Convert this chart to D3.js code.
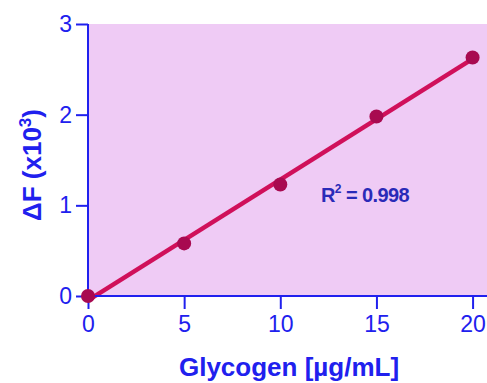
<!DOCTYPE html>
<html>
<head>
<meta charset="utf-8">
<script src="https://d3js.org/d3.v7.min.js"></script>
<style>
  body { margin: 0; background: #fff; }
  text { font-family: "Liberation Sans", Arial, sans-serif; }
</style>
</head>
<body>
<div id="chart"></div>
<script>
// data
var glycogen = [0, 5, 10, 15, 20];
var deltaF = [0, 0.58, 1.23, 1.98, 2.63];
var xTicks = [0, 5, 10, 15, 20];
var yTicks = [0, 1, 2, 3];
var fitLabel = "0.998";

var W = 487, H = 383;
var blue = "#2020ee";

var svg = d3.select("#chart").append("svg")
  .attr("width", W).attr("height", H);

var x = d3.scaleLinear().domain([0, 20.75]).range([88, 487]);
var y = d3.scaleLinear().domain([0, 3]).range([296, 24]);

// plot background
svg.append("rect")
  .attr("x", x(0)).attr("y", y(3))
  .attr("width", x(20.75) - x(0)).attr("height", y(0) - y(3))
  .attr("fill", "#efcbf5");

/* least squares fit line */
var n = glycogen.length;
var mx = d3.mean(glycogen), my = d3.mean(deltaF);
var sxy = 0, sxx = 0;
for (var i = 0; i < n; i++) {
  sxy += (glycogen[i] - mx) * (deltaF[i] - my);
  sxx += (glycogen[i] - mx) * (glycogen[i] - mx);
}
var slope = sxy / sxx;
var icpt = my - slope * mx;

var line = d3.line()
  .x(function(d) { return x(d); })
  .y(function(d) { return y(slope * d + icpt); });

svg.append("path")
  .attr("d", line([0, 20]))
  .attr("stroke", "#d0105a")
  .attr("stroke-width", 4.5)
  .attr("fill", "none");

var xAxis = d3.axisBottom(x).tickValues(xTicks).tickFormat(d3.format("d"))
  .tickSize(13).tickPadding(7);
var yAxis = d3.axisLeft(y).tickValues(yTicks).tickFormat(d3.format("d"))
  .tickSize(12).tickPadding(4);

var gx = svg.append("g")
  .attr("transform", "translate(0," + y(0) + ")")
  .call(xAxis);
var gy = svg.append("g")
  .attr("transform", "translate(" + x(0) + ",0)")
  .call(yAxis);

[gx, gy].forEach(function(g) {
  g.select(".domain").attr("stroke", blue).attr("stroke-width", 2);
  g.selectAll(".tick line").attr("stroke", blue).attr("stroke-width", 2);
  g.selectAll(".tick text").attr("fill", blue)
    .style("font-size", "23px");
});
gy.select(".domain").attr("d", "M0," + y(3) + "V" + y(0));
gx.select(".domain").attr("d", "M" + x(0) + ",0H" + x(20.75));

// points drawn on top of axes
svg.selectAll("circle.pt")
  .data(glycogen)
  .enter().append("circle")
  .attr("class", "pt")
  .attr("cx", function(d) { return x(d); })
  .attr("cy", function(d, i) { return y(deltaF[i]); })
  .attr("r", 7)
  .attr("fill", "#a80a50");

// R^2 label
var r2 = svg.append("text")
  .attr("x", 321).attr("y", 202)
  .attr("fill", "#2a2ab8")
  .style("font-size", "20px")
  .style("font-weight", "bold")
  .style("letter-spacing", "-0.6px");
r2.append("tspan").text("R");
r2.append("tspan").attr("dy", -9).style("font-size", "12px").text("2");
r2.append("tspan").attr("dy", 9).text(" = " + fitLabel);

// axis titles
svg.append("text")
  .attr("x", 289).attr("y", 376)
  .attr("text-anchor", "middle")
  .attr("fill", blue)
  .style("font-size", "26px")
  .style("font-weight", "bold")
  .text("Glycogen [\u00b5g/mL]");

var yt = svg.append("text")
  .attr("transform", "translate(41,165) rotate(-90)")
  .attr("text-anchor", "middle")
  .attr("fill", blue)
  .style("font-size", "26px")
  .style("font-weight", "bold");
yt.append("tspan").text("\u0394F (x10");
yt.append("tspan").attr("dy", -10).style("font-size", "17px").text("3");
yt.append("tspan").attr("dy", 10).text(")");
</script>
</body>
</html>
